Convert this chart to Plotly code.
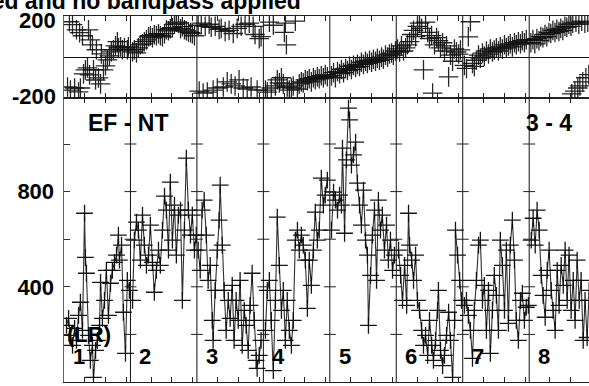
import plotly.graph_objects as go

# ---------------- data ----------------
SEG_SPAN = 3.2  # length of one time segment (hours)
segment_labels = ["1", "2", "3", "4", "5", "6", "7", "8"]
baseline_label = "EF - NT"
stokes_label = "(LR)"
channel_label = "3 - 4"
title_text = "Calibrated and no bandpass applied"

amp_ticks = [0, 200, 400, 600, 800, 1000]
amp_tick_text = ["0", "", "400", "", "800", ""]
phase_ticks = [200, -200]
phase_tick_text = ["200", "-200"]
time_ticks_in_segment = [1, 2, 3]

amp_t1 = [0.12,0.22,0.31,0.41,0.51,0.60,0.70,0.79,0.89,0.99,1.03,1.08,1.18,1.27,1.37,1.42,1.52,1.61,1.71,1.76,1.85,1.95,2.04,2.14,2.24,2.33,2.43,2.53,2.62,2.67,2.77,2.86,2.96,3.05,3.15]
amp_v1 = [238,267,196,154,225,175,280,335,217,709,524,457,196,91,154,19,133,175,238,419,267,343,469,280,415,469,503,533,617,512,575,293,120,427,385]
amp_t2 = [0.10,0.19,0.29,0.38,0.48,0.58,0.67,0.77,0.87,0.96,1.06,1.15,1.25,1.35,1.44,1.54,1.64,1.73,1.83,1.92,2.02,2.12,2.21,2.31,2.41,2.50,2.60,2.69,2.79,2.89,2.98,3.08,3.17]
amp_v2 = [343,596,672,638,512,701,575,490,533,659,503,377,469,554,490,638,781,722,554,840,596,743,533,701,722,343,638,941,722,617,701,554,617]
amp_t3 = [0.06,0.16,0.25,0.35,0.45,0.54,0.64,0.74,0.78,0.88,0.98,1.07,1.12,1.22,1.31,1.41,1.51,1.60,1.70,1.79,1.89,1.99,2.08,2.18,2.28,2.37,2.47,2.56,2.66,2.76,2.85,2.90,3.00,3.09]
amp_v3 = [554,469,722,764,617,427,490,259,175,385,554,680,827,575,385,217,343,267,406,175,343,259,427,154,301,238,133,322,457,259,91,57,112,175]
amp_t4 = [0.10,0.19,0.29,0.38,0.48,0.58,0.67,0.77,0.87,0.96,1.06,1.15,1.25,1.35,1.44,1.54,1.64,1.73,1.83,1.92,2.02,2.12,2.21,2.31,2.41,2.50,2.60,2.69,2.79,2.89,2.98,3.08]
amp_v4 = [217,385,427,259,48,343,693,490,301,385,175,343,217,154,259,596,638,554,617,575,512,309,512,406,554,714,596,638,857,743,785,848]
amp_t5 = [0.08,0.18,0.27,0.37,0.47,0.56,0.61,0.71,0.80,0.90,0.95,1.04,1.14,1.24,1.33,1.43,1.52,1.62,1.72,1.81,1.86,1.96,2.05,2.15,2.25,2.34,2.44,2.53,2.63,2.73,2.82,2.92,3.02,3.11]
amp_v5 = [638,798,764,722,785,743,983,625,933,1151,1101,911,954,1008,836,743,659,806,596,533,238,448,617,722,427,764,638,701,554,659,512,596,469,533]
amp_t6 = [0.11,0.21,0.30,0.40,0.50,0.59,0.64,0.74,0.83,0.93,1.02,1.12,1.22,1.31,1.41,1.51,1.60,1.70,1.79,1.89,1.99,2.03,2.13,2.23,2.32,2.42,2.52,2.61,2.71,2.81,2.85,2.95,3.05,3.14]
amp_v6 = [554,448,343,490,322,709,575,512,427,533,343,301,217,154,196,112,259,154,91,175,301,385,133,69,112,196,293,175,19,259,638,533,427,343]
amp_t7 = [0.08,0.18,0.27,0.37,0.47,0.56,0.66,0.76,0.85,0.95,1.04,1.14,1.24,1.33,1.43,1.52,1.62,1.72,1.81,1.91,2.01,2.10,2.20,2.29,2.39,2.49,2.58,2.68,2.78,2.87,2.97,3.06,3.16]
amp_v7 = [322,343,280,217,99,301,427,575,596,343,406,217,385,120,301,448,364,217,596,490,301,554,246,575,680,512,259,175,343,373,259,314,322]
amp_t8 = [0.10,0.19,0.29,0.38,0.48,0.58,0.67,0.77,0.87,0.96,1.06,1.15,1.25,1.35,1.44,1.54,1.64,1.73,1.83,1.92,2.02,2.12,2.21,2.31,2.41,2.50,2.60,2.69,2.79,2.89]
amp_v8 = [596,688,575,722,638,448,364,272,469,554,385,301,217,469,322,490,406,554,343,533,301,427,259,512,343,427,175,343,187,385]

ph_t1 = [0.17,0.26,0.31,0.41,0.51,0.60,0.70,0.75,0.79,0.89,0.94,1.03,1.13,1.18,1.23,1.27,1.37,1.42,1.52,1.56,1.66,1.76,1.80,1.90,2.00,2.09,2.19,2.28,2.38,2.48,2.57,2.62,2.72,2.81,2.91,3.05,3.10]
ph_v1 = [-145,172,-160,158,-150,133,-169,119,-150,104,-81,-62,-52,133,-86,84,60,-62,-111,36,-101,-130,16,-62,-42,-13,6,26,36,55,75,45,50,36,45,36,50]
ph_t2 = [0.10,0.19,0.29,0.38,0.48,0.58,0.67,0.77,0.87,0.96,1.06,1.15,1.25,1.35,1.44,1.54,1.64,1.73,1.83,1.92,2.02,2.12,2.21,2.31,2.41,2.50,2.60,2.69,2.79,2.89,2.98,3.08]
ph_v2 = [26,36,21,45,60,65,75,84,99,104,94,109,104,114,104,99,114,133,128,138,143,160,170,165,138,148,133,128,123,119,114,104]
ph_t3 = [0.06,0.11,0.21,0.30,0.40,0.50,0.59,0.69,0.78,0.88,0.98,1.07,1.17,1.27,1.36,1.46,1.55,1.65,1.75,1.84,1.94,2.03,2.13,2.23,2.32,2.42,2.52,2.61,2.71,2.80,2.90,3.00,3.09]
ph_v3 = [155,-165,165,-175,150,-170,160,145,-160,150,-150,135,140,-145,125,-120,130,-130,115,-140,140,-110,150,-150,160,-155,165,-145,150,110,-160,90,100]
ph_t4 = [0.10,0.19,0.29,0.38,0.48,0.58,0.67,0.77,0.87,0.96,1.01,1.06,1.11,1.15,1.25,1.35,1.44,1.54,1.64,1.73,1.83,1.92,2.02,2.12,2.21,2.31,2.41,2.50,2.60,2.69,2.79,2.89,2.98,3.08]
ph_v4 = [-160,-170,170,-150,155,-140,-110,-125,-100,-130,120,165,60,-145,-160,-150,-140,175,-155,-130,-120,-125,-110,-115,-105,-120,-100,-110,-95,-105,-90,-100,-85,-95]
ph_t5 = [0.08,0.18,0.27,0.37,0.47,0.56,0.66,0.76,0.85,0.95,1.04,1.14,1.24,1.33,1.43,1.52,1.62,1.72,1.81,1.91,2.01,2.10,2.20,2.29,2.39,2.49,2.58,2.68,2.78,2.87,2.97,3.06,3.16]
ph_v5 = [-90,-75,-100,-70,-80,-60,-75,-55,-65,-45,-60,-40,-50,-35,-45,-25,-35,-20,-30,-15,-25,-10,-20,-5,-15,0,-10,10,0,15,20,10,30]
ph_t6 = [0.06,0.16,0.25,0.35,0.45,0.54,0.64,0.74,0.83,0.93,1.02,1.12,1.22,1.31,1.41,1.51,1.60,1.70,1.75,1.84,1.94,2.03,2.13,2.23,2.32,2.42,2.52,2.61,2.71,2.80,2.90,3.00,3.09]
ph_v6 = [40,25,55,30,45,60,75,110,130,100,150,165,140,-62,170,120,90,105,-175,60,95,80,45,70,30,55,-96,10,-20,40,25,15,35]
ph_t7 = [0.08,0.18,0.27,0.37,0.47,0.56,0.66,0.76,0.85,0.95,1.04,1.14,1.24,1.33,1.43,1.52,1.62,1.72,1.81,1.91,2.01,2.10,2.20,2.29,2.39,2.49,2.58,2.68,2.78,2.87,2.97,3.06]
ph_v7 = [-40,-55,99,172,-30,-45,-15,10,-5,20,5,30,15,40,25,35,45,30,50,40,60,45,55,65,50,70,60,75,65,80,70,85]
ph_t8 = [0.08,0.18,0.27,0.37,0.47,0.56,0.66,0.76,0.85,0.95,1.04,1.14,1.24,1.33,1.43,1.52,1.62,1.72,1.81,1.91,2.01,2.05,2.10,2.20,2.25,2.34,2.39,2.44,2.53,2.58,2.68,2.73,2.82,2.87]
ph_v8 = [70,85,65,90,80,100,95,110,100,120,115,130,120,135,125,140,130,150,145,160,150,-178,165,-165,170,-150,160,-140,175,-120,165,-100,170,-85]

amp_times = [amp_t1, amp_t2, amp_t3, amp_t4, amp_t5, amp_t6, amp_t7, amp_t8]
amp_values = [amp_v1, amp_v2, amp_v3, amp_v4, amp_v5, amp_v6, amp_v7, amp_v8]
ph_times = [ph_t1, ph_t2, ph_t3, ph_t4, ph_t5, ph_t6, ph_t7, ph_t8]
ph_values = [ph_v1, ph_v2, ph_v3, ph_v4, ph_v5, ph_v6, ph_v7, ph_v8]

# ---------------- build ----------------
W, H = 589, 386
ML, MR, MT, MB = 64, 0, 16, 4
PW, PH = W - ML - MR, H - MT - MB
AMP_TOP = 0.7751
X_MAX = 25.28
FONT = "Liberation Sans, Arial, Helvetica, sans-serif"

xa, ya = [], []
for k, (ts, vs) in enumerate(zip(amp_times, amp_values)):
    xa += [k * SEG_SPAN + t for t in ts] + [None]
    ya += list(vs) + [None]
xp, yp = [], []
for k, (ts, vs) in enumerate(zip(ph_times, ph_values)):
    xp += [k * SEG_SPAN + t for t in ts]
    yp += list(vs)

fig = go.Figure()
fig.add_trace(go.Scatter(
    x=xa, y=ya, mode="lines+markers", xaxis="x", yaxis="y",
    line=dict(color="rgba(25,25,25,0.9)", width=1.1),
    marker=dict(symbol="cross-thin", size=12, line=dict(color="rgba(10,10,10,0.95)", width=1.3)),
    connectgaps=False, hoverinfo="skip"))
fig.add_trace(go.Scatter(
    x=xp, y=yp, mode="markers", xaxis="x2", yaxis="y2",
    marker=dict(symbol="cross-thin", size=14, line=dict(color="rgba(15,15,15,0.9)", width=1.3)),
    hoverinfo="skip"))

xtickvals = [k * SEG_SPAN + t for k in range(len(segment_labels)) for t in time_ticks_in_segment]
common_x = dict(range=[0, X_MAX], tickvals=xtickvals, ticks="inside", ticklen=5, tickwidth=1,
                tickcolor="#222", showticklabels=False, showline=True, linecolor="#222",
                linewidth=1, mirror="ticks", showgrid=False, zeroline=False)

shapes = []
for k in range(1, len(segment_labels)):
    xs = k * SEG_SPAN
    shapes.append(dict(type="line", xref="x", yref="paper", x0=xs, x1=xs, y0=0, y1=1,
                       line=dict(color="#111", width=1)))
    for v in amp_ticks[1:]:
        shapes.append(dict(type="line", xref="x", yref="y", xsizemode="pixel", xanchor=xs,
                           x0=-6, x1=6, y0=v, y1=v, line=dict(color="#222", width=1)))

annotations = []
bold = dict(family=FONT, size=22, color="black", weight="bold")
big = dict(family=FONT, size=23, color="black", weight="bold")
for v, txt, ys in zip(phase_ticks, phase_tick_text, [-4, 1.5]):
    annotations.append(dict(text=txt, xref="paper", yref="y2", x=0, y=v, xanchor="right",
                            yanchor="middle", xshift=-6, yshift=ys, showarrow=False, font=bold))
for k, lab in enumerate(segment_labels):
    annotations.append(dict(text=lab, xref="x", yref="y", x=k * SEG_SPAN + 0.72, y=107,
                            xanchor="center", yanchor="middle", showarrow=False, font=bold))

def px(xpix):
    return (xpix - ML) / PW

def py(ypix):
    return (H - MB - ypix) / PH

annotations += [
    dict(text=baseline_label, xref="paper", yref="paper",
         x=px(128), y=py(123), xanchor="center", yanchor="middle", showarrow=False, font=big),
    dict(text=channel_label, xref="paper", yref="paper", x=px(549), y=py(123),
         xanchor="center", yanchor="middle", showarrow=False, font=big),
    dict(text=stokes_label, xref="paper", yref="paper", x=px(89), y=py(334.5),
         xanchor="center", yanchor="middle", showarrow=False, font=bold),
    dict(text=title_text, xref="paper", yref="paper", x=px(303), y=py(0.5),
         xanchor="right", yanchor="middle", showarrow=False, font=big),
]

fig.update_layout(
    width=W, height=H, margin=dict(l=ML, r=MR, t=MT, b=MB, autoexpand=False),
    paper_bgcolor="white", plot_bgcolor="white", showlegend=False,
    font=dict(family=FONT, size=22, color="black", weight="bold"),
    xaxis=dict(domain=[0, 1], anchor="y", **common_x),
    xaxis2=dict(domain=[0, 1], anchor="y2", matches="x", **common_x),
    yaxis=dict(domain=[0, AMP_TOP], range=[0, 1192], tickvals=amp_ticks, ticktext=amp_tick_text,
               ticks="inside", ticklen=6, tickwidth=1, tickcolor="#333", showline=True,
               linecolor="#666", linewidth=1.5, showgrid=False, zeroline=False,
               ticklabelstandoff=4, tickfont=bold),
    yaxis2=dict(domain=[AMP_TOP, 1], range=[-200, 200], showticklabels=False, ticks="",
                showline=True, linecolor="#666", linewidth=1.5, showgrid=False,
                zeroline=True, zerolinecolor="#111", zerolinewidth=1),
    shapes=shapes, annotations=annotations,
)

fig.write_html("out.html", config={"displayModeBar": False, "staticPlot": True},
               post_script="document.body.style.margin='0px';document.body.style.overflow='hidden';")
